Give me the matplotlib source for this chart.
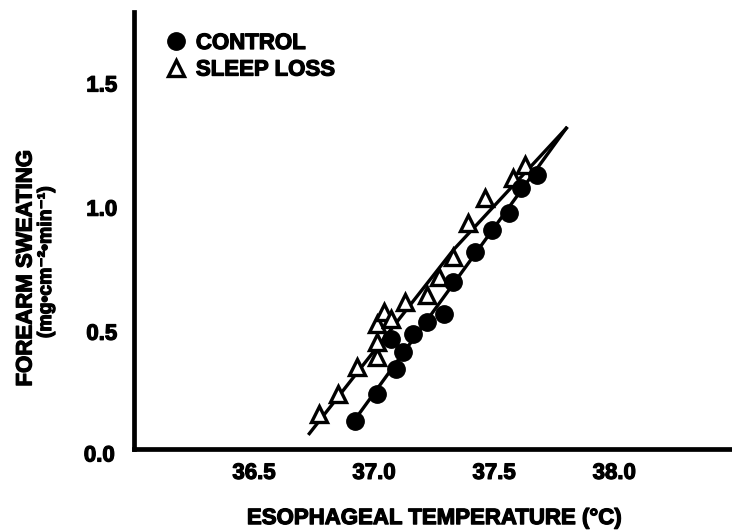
import numpy as np
import matplotlib
matplotlib.use("Agg")
import matplotlib.pyplot as plt
import matplotlib.patheffects as pe
from matplotlib.lines import Line2D

plt.rcParams['font.family'] = ['Liberation Sans', 'DejaVu Sans']
plt.rcParams['font.weight'] = 'bold'
heavy = [pe.withStroke(linewidth=0.9, foreground='black')]

# control: esophageal temperature (C) and forearm sweating
control_t = [36.92, 37.01, 37.09, 37.12, 37.07, 37.16, 37.22, 37.29, 37.33,
             37.42, 37.49, 37.56, 37.61, 37.68]
control_v = [0.14, 0.25, 0.35, 0.42, 0.47, 0.49, 0.54, 0.57, 0.70,
             0.82, 0.91, 0.98, 1.08, 1.13]

# sleep loss
sleep_t = [36.77, 36.85, 36.93, 37.01, 37.01, 37.01, 37.04, 37.07, 37.13,
           37.22, 37.27, 37.33, 37.39, 37.46, 37.58, 37.63]
sleep_v = [0.17, 0.25, 0.36, 0.40, 0.46, 0.53, 0.58, 0.55, 0.62,
           0.65, 0.72, 0.80, 0.94, 1.04, 1.12, 1.17]

# fitted lines
control_fit_t = [36.90, 37.80]
control_fit_v = [0.12, 1.32]
sleep_fit_t = [36.73, 37.33, 37.80]
sleep_fit_v = [0.09, 0.83, 1.32]

xticks = [36.5, 37.0, 37.5, 38.0]
yticks = [0.5, 1.0, 1.5]

fig = plt.figure(figsize=(7.32, 5.32), dpi=100)
ax = fig.add_axes([134/732, 1 - 449/532, 598/732, 437/532])

ax.plot(control_fit_t, control_fit_v, 'k-', linewidth=2.4)
ax.plot(sleep_fit_t, sleep_fit_v, 'k-', linewidth=2.4)
ax.plot(sleep_t, sleep_v, '^', markersize=11.5, markerfacecolor='white',
        markeredgecolor='black', markeredgewidth=2.4, linestyle='none')
ax.plot(control_t, control_v, 'o', markersize=12.5, color='black', linestyle='none')

ax.set_xlim(36.0, 38.49)
ax.set_ylim(0.028, 1.788)
ax.set_xticks(xticks)
ax.set_xticklabels(['%.1f' % t for t in xticks])
ax.set_yticks(yticks)
ax.set_yticklabels(['%.1f' % t for t in yticks])
ax.text(-0.032, 0.0, '0.0', transform=ax.get_yaxis_transform(), ha='right',
        va='center', fontsize=16, fontweight='bold', clip_on=False,
        path_effects=heavy)
ax.tick_params(length=0, labelsize=16)
ax.tick_params(axis='y', pad=12)
ax.tick_params(axis='x', pad=10)
for lab in ax.get_xticklabels() + ax.get_yticklabels():
    lab.set_path_effects(heavy)

for s in ['top', 'right']:
    ax.spines[s].set_visible(False)
for s in ['left', 'bottom']:
    ax.spines[s].set_linewidth(3.4)

ax.set_xlabel('ESOPHAGEAL TEMPERATURE (\u00b0C)', fontsize=16, fontweight='bold',
              path_effects=heavy)
ax.xaxis.set_label_coords(0.503, -0.135)

fig.text(26/732, 1 - 268/532, 'FOREARM SWEATING', rotation=90, ha='center',
         va='center', fontsize=16, fontweight='bold', path_effects=heavy)
fig.text(46/732, 1 - 262/532, '(mg\u2022cm\u207b\u00b2\u2022min\u207b\u00b9)', rotation=90,
         ha='center', va='center', fontsize=14, fontweight='bold',
         path_effects=heavy)

handles = [Line2D([], [], marker='o', color='black', markersize=12.5, linestyle='none'),
           Line2D([], [], marker='^', markerfacecolor='white', markeredgecolor='black',
                  markeredgewidth=2.4, markersize=11.5, linestyle='none')]
leg = ax.legend(handles, ['CONTROL', 'SLEEP LOSS'], loc='upper left',
                bbox_to_anchor=(167/732, 1 - 33/532), bbox_transform=fig.transFigure,
                frameon=False, fontsize=16, handlelength=0.8, handletextpad=0.5,
                labelspacing=0.25, borderpad=0, borderaxespad=0)
for t in leg.get_texts():
    t.set_path_effects(heavy)

plt.savefig('out.png', dpi=100)
